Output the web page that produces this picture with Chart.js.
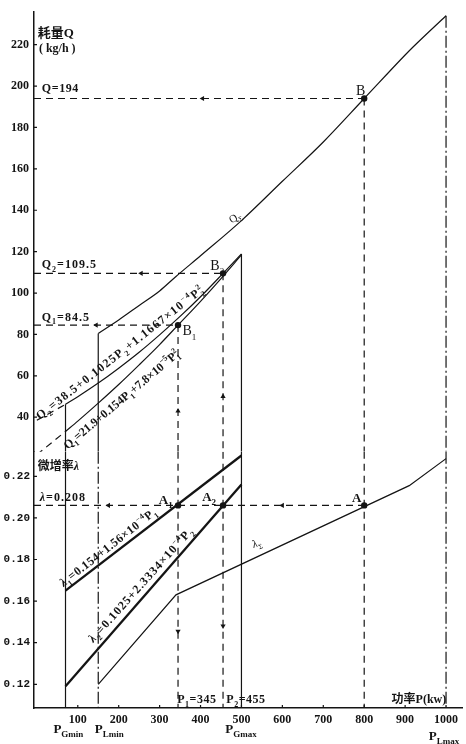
<!DOCTYPE html>
<html>
<head>
<meta charset="utf-8">
<script src="https://cdn.jsdelivr.net/npm/chart.js@4.4.1/dist/chart.umd.min.js"></script>
<style>
  html, body { margin: 0; padding: 0; background: #fff; }
  #wrap { width: 466px; height: 744px; }
</style>
</head>
<body>
<div id="wrap"><canvas id="c"></canvas></div>
<script>
// tick labels
var pTicks = [100, 200, 300, 400, 500, 600, 700, 800, 900, 1000];
var qTicks = [40, 60, 80, 100, 120, 140, 160, 180, 200, 220];
var lTicks = [0.12, 0.14, 0.16, 0.18, 0.20, 0.22];

// 耗量特性 Q1, Q2 (kg/h) against P (kW)
var q1P = [70, 100, 150, 200, 250, 300, 345, 400, 450, 500];
var q1Q = [33.1, 38.1, 46.8, 55.8, 65.3, 75.1, 84.5, 96.0, 107.0, 118.4];
var q2P = [70, 100, 150, 200, 250, 300, 350, 400, 455, 500];
var q2Q = [46.2, 49.9, 56.5, 63.7, 71.4, 79.8, 88.7, 98.2, 109.5, 118.9];
// dashed parts below P_Gmin
var q1LowP = [0, 70];
var q1LowQ = [21.9, 33.1];
var q2LowP = [0, 70];
var q2LowQ = [38.5, 46.2];
// total QΣ
var qsP = [150, 200, 250, 300, 340, 400, 500, 600, 700, 800, 900, 920, 1000];
var qsQ = [80.5, 87, 94, 101, 108, 118, 135, 154, 173, 194, 215, 219, 234];

// 微增率 λ1, λ2, λΣ
var l1P = [70, 500];
var l1L = [0.165, 0.230];
var l2P = [70, 500];
var l2L = [0.119, 0.216];
var lsP = [150, 340, 910, 1000];
var lsL = [0.120, 0.163, 0.2155, 0.2285];

// limits P_Gmin, P_Lmin, P_Gmax, P_Lmax
var pGmin = 70, pLmin = 150, pGmax = 500, pLmax = 1000;

// solution points B1, B2, B and A1, A2, A
var solP = [345, 455, 800];
var solQ = [84.5, 109.5, 194];
var solL = [0.206, 0.206, 0.206];

// arrow marks on the dashed guides
var arrowLeftQP = [145, 255, 405];
var arrowLeftQ = [84.5, 109.5, 194];
var arrowLeftLP = [175, 600];
var arrowUpQ = [43, 50];
var arrowDownL = [0.1455, 0.148];

// axis ranges
var X_MIN = -7, X_MAX = 1039;
var Q_MIN = 23.3, Q_MAX = 235.7;
var L_MIN = 0.1086, L_MAX = 0.2318;

var INK = '#141414';

function pts(xs, ys) {
  return xs.map(function (x, i) { return { x: x, y: ys[i] }; });
}

function line(xs, ys, axis, st) {
  return Object.assign({
    data: pts(xs, ys), yAxisID: axis, showLine: true, pointRadius: 0,
    borderColor: INK, borderWidth: 1.2, fill: false
  }, st || {});
}

function marks(xs, ys, axis, st) {
  return Object.assign({
    data: pts(xs, ys), yAxisID: axis, showLine: false, pointRadius: 3.2,
    pointBackgroundColor: INK, pointBorderColor: INK, pointBorderWidth: 0
  }, st || {});
}

var DASH = { borderDash: [7, 5] };
var DASHDOT = { borderDash: [12, 3, 2, 3] };
var CURVE = { cubicInterpolationMode: 'monotone' };
var BOLD = { borderWidth: 2.3 };

function vert(p, from, to, axis, st) {
  return line([p, p], [from, to], axis, st);
}

var datasets = [
  // upper panel, Q
  line(q1P, q1Q, 'yQ', CURVE),
  line(q2P, q2Q, 'yQ', CURVE),
  line(qsP, qsQ, 'yQ', CURVE),
  line(q1LowP, q1LowQ, 'yQ', DASH),
  line(q2LowP, q2LowQ, 'yQ', DASH),
  vert(pGmin, q2Q[0], Q_MIN, 'yQ'),
  vert(pLmin, qsQ[0], Q_MIN, 'yQ'),
  vert(pGmax, q2Q[q2Q.length - 1], Q_MIN, 'yQ'),
  vert(pLmax, qsQ[qsQ.length - 1], Q_MIN, 'yQ', DASHDOT),
  line([X_MIN, solP[0]], [solQ[0], solQ[0]], 'yQ', DASH),
  line([X_MIN, solP[1]], [solQ[1], solQ[1]], 'yQ', DASH),
  line([X_MIN, solP[2]], [solQ[2], solQ[2]], 'yQ', DASH),
  vert(solP[0], solQ[0], Q_MIN, 'yQ', DASH),
  vert(solP[1], solQ[1], Q_MIN, 'yQ', DASH),
  vert(solP[2], solQ[2], Q_MIN, 'yQ', DASH),
  marks(solP, solQ, 'yQ'),
  marks(arrowLeftQP, arrowLeftQ, 'yQ', { pointStyle: 'triangle', rotation: -90, pointRadius: 3 }),
  marks(solP.slice(0, 2), arrowUpQ, 'yQ', { pointStyle: 'triangle', rotation: 0, pointRadius: 3 }),

  // lower panel, λ
  line(l1P, l1L, 'yL', BOLD),
  line(l2P, l2L, 'yL', BOLD),
  line(lsP, lsL, 'yL'),
  vert(pGmin, L_MAX, L_MIN, 'yL'),
  vert(pLmin, L_MAX, L_MIN, 'yL', DASHDOT),
  vert(pGmax, L_MAX, L_MIN, 'yL'),
  vert(pLmax, L_MAX, L_MIN, 'yL', DASHDOT),
  line([X_MIN, solP[2]], [solL[2], solL[2]], 'yL', DASH),
  vert(solP[0], L_MAX, L_MIN, 'yL', DASH),
  vert(solP[1], L_MAX, L_MIN, 'yL', DASH),
  vert(solP[2], L_MAX, L_MIN, 'yL', DASH),
  marks(solP, solL, 'yL'),
  marks(arrowLeftLP, [solL[0], solL[0]], 'yL', { pointStyle: 'triangle', rotation: -90, pointRadius: 3 }),
  marks(solP.slice(0, 2), arrowDownL, 'yL', { pointStyle: 'triangle', rotation: 180, pointRadius: 3 })
];

// text drawing with sub/superscripts
function drawParts(ctx, parts, size, o) {
  var fam = o.mono ? '"Liberation Mono", monospace' : '"Liberation Serif", "DejaVu Serif", serif';
  var w = o.light ? 'normal' : 'bold';
  var fMain = w + ' ' + size + 'px ' + fam;
  var fSmall = w + ' ' + Math.round(size * 0.66) + 'px ' + fam;
  var fCjk = 'bold ' + size + 'px "Noto Sans CJK SC", sans-serif';
  var fIt = 'italic ' + w + ' ' + size + 'px ' + fam;
  ctx.letterSpacing = (o.ls || 0) + 'px';
  var pieces = parts.map(function (p) {
    if (typeof p === 'string') return { t: p, f: fMain, dy: 0 };
    if (p[1] === 'b') return { t: p[0], f: fSmall, dy: size * 0.3 };
    if (p[1] === 'p') return { t: p[0], f: fSmall, dy: -size * 0.42 };
    if (p[1] === 'bp') return { t: p[0], f: fSmall, dy: size * 0.3, t2: p[2], dy2: -size * 0.42 };
    if (p[1] === 'c') return { t: p[0], f: fCjk, dy: 0 };
    return { t: p[0], f: fIt, dy: 0 };
  });
  var total = 0;
  pieces.forEach(function (pc) {
    ctx.font = pc.f;
    pc.w = ctx.measureText(pc.t).width;
    if (pc.t2) pc.w = Math.max(pc.w, ctx.measureText(pc.t2).width);
    total += pc.w;
  });
  var x = o.align === 'center' ? -total / 2 : 0;
  pieces.forEach(function (pc) {
    ctx.font = pc.f;
    ctx.fillText(pc.t, x, pc.dy);
    if (pc.t2) ctx.fillText(pc.t2, x, pc.dy2);
    x += pc.w;
  });
}

var notes = [
  { parts: [['耗量', 'c'], 'Q'], p: 2, ax: 'yQ', v: 223.8, size: 13 },
  { parts: ['( kg/h )'], p: 5, ax: 'yQ', v: 216.7, size: 12 },
  { parts: ['Q=194'], p: 12, ax: 'yQ', v: 197.1, size: 12, ls: 0.6 },
  { parts: ['Q', ['2', 'b'], '=109.5'], p: 12, ax: 'yQ', v: 111.9, size: 12, ls: 1 },
  { parts: ['Q', ['1', 'b'], '=84.5'], p: 12, ax: 'yQ', v: 86.7, size: 12, ls: 1 },
  { parts: ['B'], p: 780, ax: 'yQ', v: 195.5, size: 14, light: true },
  { parts: ['B', ['2', 'b']], p: 424, ax: 'yQ', v: 111, size: 14, light: true },
  { parts: ['B', ['1', 'b']], p: 356, ax: 'yQ', v: 79.5, size: 14, light: true },
  { parts: ['Q', ['Σ', 'b']], p: 477, ax: 'yQ', v: 133.5, size: 11, light: true, rot: -35 },
  { parts: ['Q', ['2', 'b'], '=38.5+0.1025P', ['2', 'b'], '+1.1667×10', ['−4', 'p'], 'P', ['2', 'bp', '2']],
    p: 7, ax: 'yQ', v: 38.6, size: 12, ls: 1.3, rot: -38 },
  { parts: ['Q', ['1', 'b'], '=21.9+0.154P', ['1', 'b'], '+7.8×10', ['−5', 'p'], 'P', ['1', 'bp', '2']],
    p: 75, ax: 'yQ', v: 24.3, size: 12, rot: -40 },
  { parts: [['微增率', 'c'], ['λ', 'i']], p: 2, ax: 'yL', v: 0.2228, size: 12 },
  { parts: [['λ', 'i'], '=0.208'], p: 7, ax: 'yL', v: 0.2082, size: 12, ls: 1 },
  { parts: ['A', ['1', 'b']], p: 298, ax: 'yL', v: 0.2068, size: 13 },
  { parts: ['A', ['2', 'b']], p: 404, ax: 'yL', v: 0.2080, size: 13 },
  { parts: ['A'], p: 770, ax: 'yL', v: 0.2076, size: 13 },
  { parts: [['λ', 'i'], ['1', 'b'], '=0.154+1.56×10', ['−4', 'p'], 'P', ['1', 'b']],
    p: 65, ax: 'yL', v: 0.1668, size: 12, ls: 0.5, rot: -38 },
  { parts: [['λ', 'i'], ['2', 'b'], '=0.1025+2.3334×10', ['−4', 'p'], 'P', ['2', 'b']],
    p: 138, ax: 'yL', v: 0.1398, size: 12, ls: 1, rot: -48 },
  { parts: [['λ', 'i'], ['Σ', 'b']], p: 530, ax: 'yL', v: 0.1855, size: 11, light: true, rot: -22 },
  { parts: ['P', ['1', 'b'], '=345'], p: 343, ax: 'yL', v: 0.111, size: 12, ls: 0.5 },
  { parts: ['P', ['2', 'b'], '=455'], p: 463, ax: 'yL', v: 0.111, size: 12, ls: 0.5 },
  { parts: [['功率', 'c'], 'P(kw)'], p: 867, ax: 'yL', v: 0.111, size: 12 },
  { parts: ['P', ['Gmin', 'b']], p: 77, ax: 'x', v: 25, size: 13, align: 'center' },
  { parts: ['P', ['Lmin', 'b']], p: 177, ax: 'x', v: 25, size: 13, align: 'center' },
  { parts: ['P', ['Gmax', 'b']], p: 499, ax: 'x', v: 25, size: 13, align: 'center' },
  { parts: ['P', ['Lmax', 'b']], p: 995, ax: 'x', v: 32, size: 13, align: 'center' }
];

var paper = {
  id: 'paper',
  beforeDraw: function (chart) {
    var ctx = chart.ctx;
    ctx.save();
    ctx.fillStyle = '#fff';
    ctx.fillRect(0, 0, chart.width, chart.height);
    ctx.restore();
  }
};

var labels = {
  id: 'labels',
  afterDatasetsDraw: function (chart) {
    var ctx = chart.ctx, xs = chart.scales.x;
    ctx.save();
    // small inward ticks
    ctx.strokeStyle = INK;
    ctx.lineWidth = 1.2;
    ctx.beginPath();
    pTicks.forEach(function (v) {
      var x = xs.getPixelForValue(v);
      ctx.moveTo(x, xs.top); ctx.lineTo(x, xs.top - 3);
    });
    [['yQ', qTicks], ['yL', lTicks]].forEach(function (a) {
      var s = chart.scales[a[0]];
      a[1].forEach(function (v) {
        var y = s.getPixelForValue(v);
        ctx.moveTo(s.right, y); ctx.lineTo(s.right + 3, y);
      });
    });
    ctx.stroke();

    ctx.fillStyle = INK;
    ctx.textBaseline = 'alphabetic';
    ctx.textAlign = 'left';
    notes.forEach(function (n) {
      var x = xs.getPixelForValue(n.p);
      var y = n.ax === 'x' ? xs.top + n.v : chart.scales[n.ax].getPixelForValue(n.v);
      ctx.save();
      ctx.translate(x, y);
      if (n.rot) ctx.rotate(n.rot * Math.PI / 180);
      drawParts(ctx, n.parts, n.size, n);
      ctx.restore();
    });
    ctx.restore();
  }
};

new Chart(document.getElementById('c'), {
  type: 'scatter',
  data: { datasets: datasets },
  options: {
    responsive: true,
    maintainAspectRatio: false,
    animation: false,
    layout: { padding: { top: 2, right: 0, left: 0, bottom: 0 } },
    plugins: { legend: { display: false }, tooltip: { enabled: false } },
    scales: {
      x: {
        type: 'linear', min: X_MIN, max: X_MAX,
        afterFit: function (s) { s.height = 36; },
        afterBuildTicks: function (s) { s.ticks = pTicks.map(function (v) { return { value: v }; }); },
        grid: { display: false, drawTicks: false },
        border: { display: true, color: INK, width: 1.5 },
        ticks: {
          padding: 5, autoSkip: false, maxRotation: 0, color: INK,
          callback: function (v) { return String(v); },
          font: { family: '"Liberation Serif", serif', weight: 'bold', size: 12 }
        }
      },
      yL: {
        type: 'linear', position: 'left', stack: 'y', stackWeight: 260,
        min: L_MIN, max: L_MAX,
        afterFit: function (s) { s.width = 34; },
        afterBuildTicks: function (s) { s.ticks = lTicks.map(function (v) { return { value: v }; }); },
        grid: { display: false, drawTicks: false },
        border: { display: true, color: INK, width: 1.5 },
        ticks: {
          padding: 4, color: INK,
          callback: function (v) { return v.toFixed(2); },
          font: { family: '"Liberation Mono", monospace', weight: 'bold', size: 11 }
        }
      },
      yQ: {
        type: 'linear', position: 'left', stack: 'y', stackWeight: 446,
        min: Q_MIN, max: Q_MAX,
        afterFit: function (s) { s.width = 34; },
        afterBuildTicks: function (s) { s.ticks = qTicks.map(function (v) { return { value: v }; }); },
        grid: { display: false, drawTicks: false },
        border: { display: true, color: INK, width: 1.5 },
        ticks: {
          padding: 5, color: INK,
          font: { family: '"Liberation Serif", serif', weight: 'bold', size: 12 }
        }
      }
    }
  },
  plugins: [paper, labels]
});
</script>
</body>
</html>
